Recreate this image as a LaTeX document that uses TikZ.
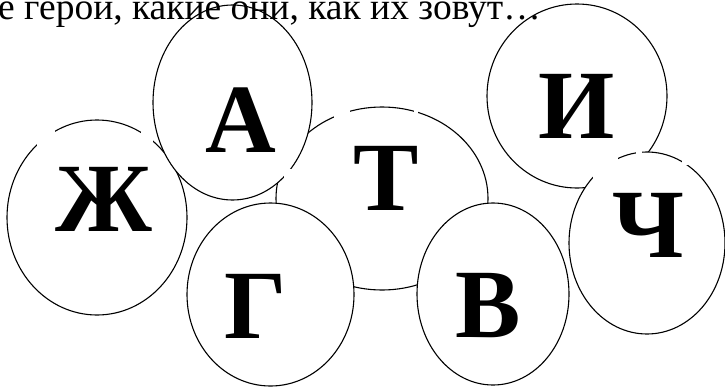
\documentclass[tikz,border=0pt]{standalone}
\usepackage{fontspec}
\setmainfont{Liberation Serif}
\usetikzlibrary{shapes.geometric}
\tikzset{
  oval/.style={ellipse, draw=black, line width=1.1pt, fill=white, inner sep=0pt},
  letter/.style={font=\bfseries\fontsize{98}{98}\selectfont, inner sep=0pt, anchor=base},
  heading/.style={font=\fontsize{37.5}{37.5}\selectfont, inner sep=0pt, anchor=base east},
  gap/.style={fill=white, draw=none}
}
\begin{document}
\begin{tikzpicture}[x=1pt,y=-1pt]
\useasboundingbox (0,0) rectangle (725,388);
\clip (0,0) rectangle (725,388);
% ellipses, drawn back to front
\node[oval, minimum width=212pt, minimum height=183pt] (eT) at (382,198.5) {};
\node[oval, minimum width=180pt, minimum height=195pt] (eZh) at (97,217.5) {};
\node[oval, minimum width=159pt, minimum height=195pt] (eA) at (232.5,102.5) {};
\node[oval, minimum width=167pt, minimum height=183pt] (eG) at (270.5,294.5) {};
\node[oval, minimum width=152pt, minimum height=182pt] (eV) at (493,294) {};
\node[oval, minimum width=180pt, minimum height=184pt] (eI) at (577,96) {};
\node[oval, minimum width=156pt, minimum height=182pt] (eCh) at (647,243) {};
% small breaks in the outlines
\fill[gap] (37,126) rectangle (55,150);
\fill[gap] (141,126) rectangle (152.5,145);
\fill[gap] (334,106) rectangle (349.5,121);
\fill[gap] (414,106) rectangle (417.5,117);
\fill[gap] (283.5,169) rectangle (291.5,177.5);
\fill[gap] (593,150) rectangle (617.5,180);
\fill[gap] (635.5,146) rectangle (641.5,158);
\fill[gap] (682,150) rectangle (688,165);
% heading (partly cut off at the top and left)
\node[heading] (title) at (541,19.5) {ые герои, какие они, как их зовут…};
% letters
\node[letter] (lZh) at (104,231) {Ж};
\node[letter] (lA) at (241,152) {А};
\node[letter] (lT) at (386,210) {Т};
\node[letter] (lG) at (256,338) {Г};
\node[letter] (lV) at (488,337) {В};
\node[letter] (lI) at (577,138) {И};
\node[letter] (lCh) at (648,257) {Ч};
\end{tikzpicture}
\end{document}
